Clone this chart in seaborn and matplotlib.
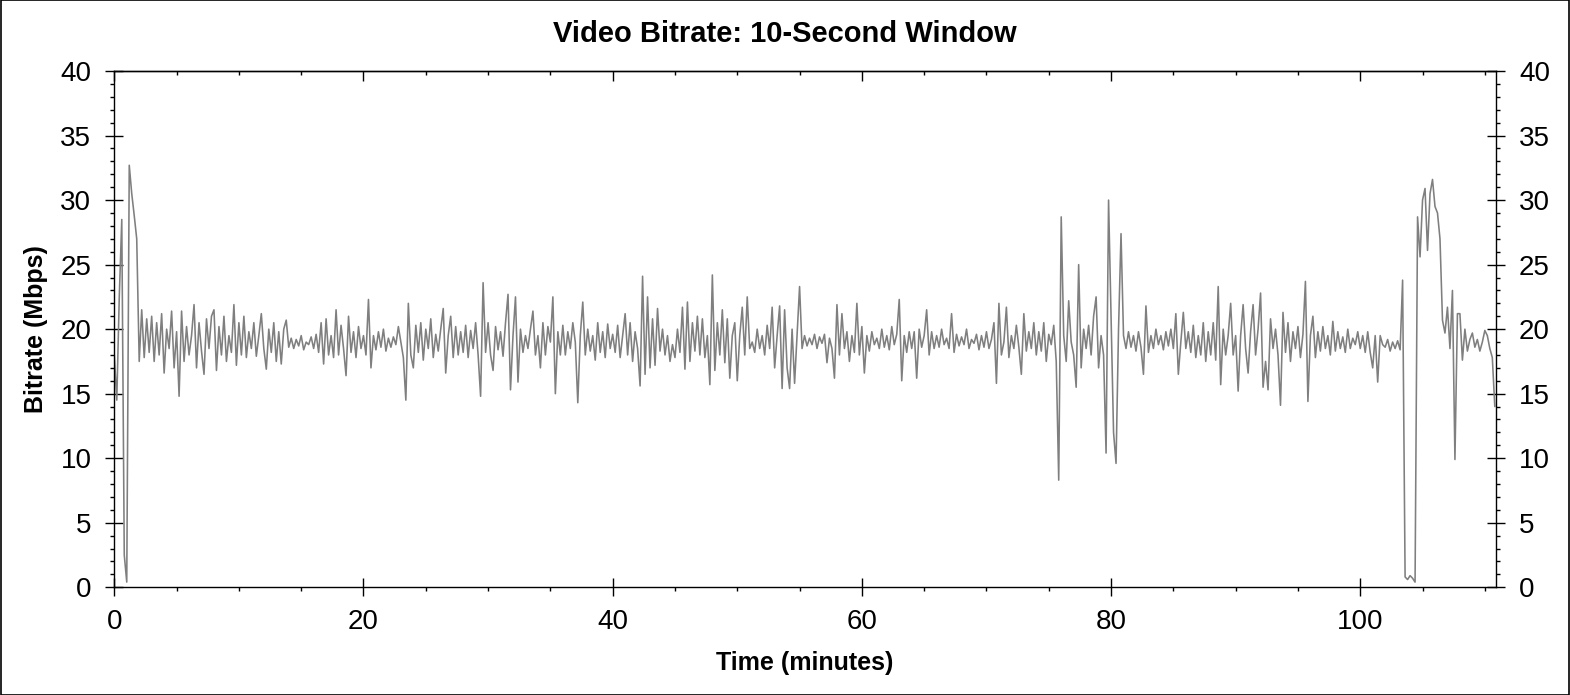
import numpy as np
import pandas as pd
import matplotlib
matplotlib.use("Agg")
import matplotlib.pyplot as plt
from matplotlib.ticker import MultipleLocator
from matplotlib.patches import Rectangle
import seaborn as sns

# ---- data (one value every 0.2 minutes) ----
SAMPLE_STEP_MIN = 0.2
bitrate_mbps = [
    18.0, 14.5, 22.5, 28.5, 2.5, 0.4, 32.7, 30.5, 28.8, 27.0,
    17.5, 21.5, 17.8, 20.8, 18.2, 21.0, 17.5, 20.5, 18.0, 21.2,
    16.6, 20.0, 18.5, 21.4, 17.0, 19.8, 14.8, 21.4, 17.5, 20.2,
    18.0, 19.5, 21.9, 17.0, 20.5, 18.3, 16.5, 20.8, 18.5, 21.0,
    21.5, 16.8, 20.2, 18.0, 21.0, 17.5, 19.5, 18.2, 21.9, 17.2,
    20.5, 18.0, 21.0, 17.8, 19.8, 18.5, 20.5, 17.9, 19.5, 21.2,
    18.5, 16.9, 20.0, 18.2, 20.5, 17.5, 19.8, 17.3, 20.0, 20.7,
    18.6, 19.3, 18.5, 19.2, 18.7, 19.5, 18.4, 19.0, 18.8, 19.4,
    18.5, 19.6, 18.2, 20.5, 17.3, 20.8, 18.0, 19.5, 17.8, 21.5,
    18.0, 20.3, 18.5, 16.4, 21.0, 18.2, 19.8, 17.8, 20.2, 18.5,
    19.5, 18.0, 22.3, 17.0, 19.5, 18.4, 19.8, 18.6, 20.0, 18.3,
    19.3, 18.6, 19.4, 18.8, 20.2, 19.0, 17.8, 14.5, 22.0, 18.0,
    17.0, 20.3, 18.2, 20.5, 17.6, 20.0, 18.5, 20.8, 17.8, 19.6,
    18.3, 20.0, 21.6, 16.6, 19.5, 21.0, 17.8, 20.2, 18.0, 19.8,
    18.2, 20.3, 17.8, 19.9, 18.5, 20.5, 18.0, 14.8, 23.6, 18.2,
    20.5, 18.0, 16.8, 20.2, 18.4, 19.8, 17.9, 20.5, 22.7, 15.3,
    19.5, 22.5, 15.9, 20.0, 18.2, 19.5, 18.5, 20.0, 21.4, 18.0,
    19.5, 17.0, 20.5, 18.0, 20.2, 19.0, 22.5, 15.0, 19.8, 18.0,
    20.3, 18.0, 19.8, 18.5, 20.5, 19.0, 14.3, 19.5, 22.1, 18.0,
    20.0, 18.3, 19.5, 17.6, 20.5, 18.2, 19.8, 17.8, 20.4, 18.5,
    19.6, 18.2, 20.3, 17.8, 19.5, 21.2, 18.0, 20.5, 17.5, 19.8,
    18.5, 15.6, 24.1, 16.5, 22.5, 17.0, 20.8, 17.2, 21.6, 18.3,
    20.0, 18.0, 19.5, 17.5, 18.8, 17.8, 20.0, 18.2, 21.7, 16.9,
    22.1, 17.5, 20.5, 18.3, 21.0, 18.0, 20.8, 17.8, 19.5, 15.7,
    24.2, 16.8, 20.5, 18.0, 21.5, 17.4, 20.8, 16.2, 19.5, 20.5,
    16.0, 19.5, 21.7, 18.0, 22.5, 18.5, 19.0, 18.2, 20.0, 18.5,
    19.5, 18.0, 20.3, 18.5, 21.7, 17.0, 19.5, 21.8, 15.4, 21.5,
    17.0, 15.4, 20.0, 15.8, 19.5, 23.3, 18.5, 19.5, 18.7, 19.3,
    18.8, 19.6, 18.5, 19.4, 18.9, 19.6, 17.4, 19.3, 18.5, 16.2,
    21.9, 18.0, 21.2, 18.5, 19.8, 17.5, 19.5, 18.2, 22.0, 18.0,
    20.2, 16.6, 19.5, 18.3, 19.8, 18.8, 19.3, 18.5, 20.0, 18.6,
    19.5, 18.4, 20.2, 18.8, 19.6, 22.3, 16.0, 19.5, 18.2, 19.8,
    18.5, 19.8, 16.2, 20.0, 18.6, 19.5, 21.5, 18.0, 19.8, 18.5,
    19.5, 18.6, 20.0, 18.8, 19.3, 18.5, 21.2, 18.2, 19.6, 18.7,
    19.4, 18.8, 20.0, 18.5, 19.2, 18.9, 19.6, 18.4, 19.5, 18.6,
    19.8, 18.5, 19.2, 20.5, 15.8, 22.0, 18.0, 19.0, 21.7, 17.8,
    19.5, 18.5, 20.3, 18.6, 16.5, 21.2, 18.3, 19.8, 18.5, 20.5,
    18.0, 19.8, 18.3, 20.5, 17.5, 19.6, 18.8, 20.3, 17.5, 8.3,
    28.7, 19.5, 17.5, 22.2, 19.0, 18.0, 15.5, 25.0, 17.0, 20.0,
    18.5, 20.3, 18.0, 21.0, 22.5, 17.0, 19.5, 18.0, 10.4, 30.0,
    21.0, 12.0, 9.6, 20.0, 27.4, 19.5, 18.5, 19.8, 18.6, 19.5,
    18.3, 19.8, 18.6, 16.5, 21.8, 18.2, 19.5, 18.5, 20.0, 18.8,
    19.5, 18.4, 19.8, 18.7, 20.0, 18.5, 21.2, 16.5, 19.0, 21.3,
    18.5, 19.8, 18.2, 20.3, 17.8, 19.5, 18.0, 20.5, 17.5, 19.8,
    18.0, 20.5, 17.6, 23.3, 15.7, 20.0, 18.0, 19.5, 22.0, 18.0,
    19.5, 15.2, 19.5, 21.9, 18.5, 16.6, 19.8, 21.9, 18.0, 20.0,
    22.8, 15.5, 17.5, 15.3, 20.8, 18.5, 20.0, 18.0, 14.1, 21.3,
    18.2, 20.5, 17.5, 19.8, 18.5, 20.2, 17.8, 19.6, 23.7, 14.4,
    19.5, 21.0, 17.8, 19.8, 18.3, 20.2, 18.5, 19.5, 18.0, 20.6,
    18.3, 19.8, 18.5, 19.4, 18.2, 20.0, 18.5, 19.3, 18.8, 19.8,
    18.5, 19.5, 18.2, 19.8, 18.2, 17.0, 19.5, 15.9, 19.5, 18.8,
    18.6, 19.2, 18.3, 19.0, 18.5, 19.1, 18.4, 23.8, 0.8, 0.6,
    0.9, 0.7, 0.4, 28.7, 25.6, 30.0, 30.9, 26.1, 30.5, 31.6,
    29.5, 29.0, 27.0, 20.7, 19.7, 21.7, 18.5, 23.0, 9.9, 21.2,
    21.2, 17.6, 20.0, 18.3, 19.2, 19.7, 18.6, 19.2, 18.3, 19.0,
    19.9, 19.5, 18.5, 17.8, 14.0,
]
time_min = np.arange(len(bitrate_mbps)) * SAMPLE_STEP_MIN

title = "Video Bitrate: 10-Second Window"
xlabel = "Time (minutes)"
ylabel = "Bitrate (Mbps)"
x_major_ticks = [0, 20, 40, 60, 80, 100]
y_major_ticks = [0, 5, 10, 15, 20, 25, 30, 35, 40]

df = pd.DataFrame({"time": time_min, "bitrate": bitrate_mbps})

# ---- style ----
sns.set_theme(style="ticks")
plt.rcParams["font.family"] = ["Liberation Sans", "DejaVu Sans"]
plt.rcParams["text.color"] = "black"
plt.rcParams["axes.labelcolor"] = "black"
plt.rcParams["xtick.color"] = "black"
plt.rcParams["ytick.color"] = "black"

fig = plt.figure(figsize=(15.7, 6.95), dpi=100)
fig.patch.set_facecolor("white")
ax = fig.add_axes([0.0728, 0.155, 0.8801, 0.7428])

sns.lineplot(data=df, x="time", y="bitrate", ax=ax, color="#7f7f7f",
             linewidth=1.15, estimator=None)

ax.set_xlim(0, 110.9)
ax.set_ylim(0, 40)
ax.set_xticks(x_major_ticks)
ax.set_yticks(y_major_ticks)
ax.xaxis.set_minor_locator(MultipleLocator(5))
ax.yaxis.set_minor_locator(MultipleLocator(1))

for s in ax.spines.values():
    s.set_color("black")
    s.set_linewidth(1.0)

ax.tick_params(axis="both", which="major", direction="inout", length=13,
               width=1.0, color="black", labelsize=20, labelcolor="black")
ax.tick_params(axis="x", which="major", pad=9)
ax.tick_params(axis="y", which="major", pad=10)
ax.tick_params(axis="both", which="minor", direction="out", length=3.2,
               width=1.0, color="black")
ax.tick_params(axis="y", which="both", left=True, right=True,
               labelleft=True, labelright=True)
ax.tick_params(axis="x", which="both", top=False)

top = ax.secondary_xaxis("top")
top.set_xticks(x_major_ticks)
top.xaxis.set_minor_locator(MultipleLocator(5))
top.tick_params(which="major", direction="in", length=7, width=1.0,
                labeltop=False, color="black")
top.tick_params(which="minor", direction="in", length=3.2, width=1.0,
                color="black")
top.spines["top"].set_linewidth(1.0)

ax.set_xlabel(xlabel, fontsize=18, fontweight="bold", labelpad=12,
              color="black")
ax.set_ylabel(ylabel, fontsize=18, fontweight="bold", labelpad=9,
              color="black")
fig.text(0.5, 0.951, title, fontsize=21, fontweight="bold", color="black",
         ha="center", va="center")

fig.patches.append(Rectangle((0.0005, 0.0007), 0.999, 0.9986,
                             transform=fig.transFigure, fill=False,
                             edgecolor="black", linewidth=1.2))

fig.savefig("out.png", dpi=100, facecolor="white")
